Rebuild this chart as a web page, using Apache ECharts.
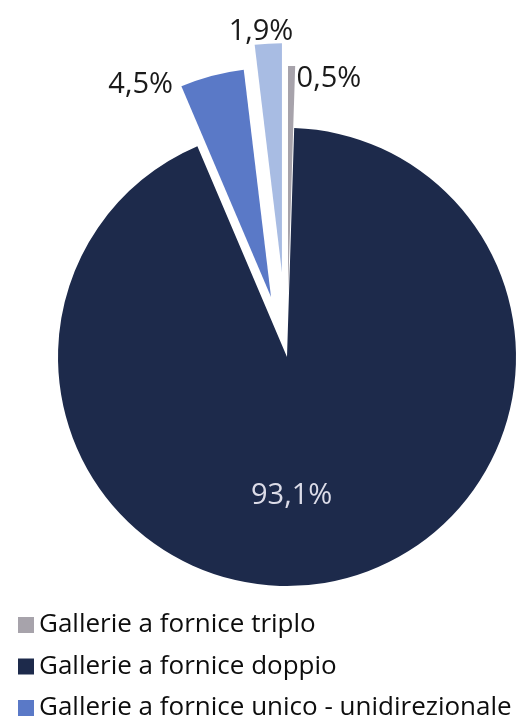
<!DOCTYPE html>
<html>
<head>
<meta charset="utf-8">
<script src="https://cdn.jsdelivr.net/npm/echarts@6/dist/echarts.min.js"></script>
<style>
  html, body { margin: 0; padding: 0; background: #ffffff; }
  #chart { width: 527px; height: 720px; }
</style>
</head>
<body>
<div id="chart"></div>
<script>
// dati (percentuali)
const categories = [
  "Gallerie a fornice triplo",
  "Gallerie a fornice doppio",
  "Gallerie a fornice unico - unidirezionale",
  "Gallerie a fornice unico - bidirezionale",
];
const values = [0.5, 93.1, 4.5, 1.9];
const legendNames = categories.slice(0, 3); // la quarta voce è tagliata nell'originale

const colors = ["#a7a3ab", "#1d2a4b", "#5a79c7", "#a8bce3"];
// spostamento delle etichette rispetto alla posizione di default
const labelShift = [
  { dx: 0, dy: 13 },
  { dx: -17, dy: 23 },
  { dx: -34, dy: 9 },
  { dx: 30, dy: -12 },
];

const fmt = (v) => v.toFixed(1).replace(".", ",") + "%";

const chart = echarts.init(document.getElementById("chart"));

// serie principale: fetta chiara nascosta (ha uno spostamento diverso)
const mainData = categories.map((name, i) => ({
  name,
  value: values[i],
  selected: i === 0 || i === 2,
  itemStyle: { color: i === 3 ? "transparent" : colors[i] },
  label: {
    show: i !== 3,
    position: i === 1 ? "inside" : "outside",
    color: i === 1 ? "#dcdce8" : "#1a1a1a",
  },
}));

// seconda serie: solo la fetta chiara, esplosa di più
const lightData = categories.map((name, i) => ({
  name,
  value: values[i],
  selected: i === 3,
  itemStyle: { color: i === 3 ? colors[i] : "transparent" },
  label: { show: i === 3, position: "outside", color: "#1a1a1a" },
}));

const baseSeries = {
  type: "pie",
  center: [287, 357],
  radius: 229,
  startAngle: 90,
  clockwise: true,
  selectedMode: "multiple",
  avoidLabelOverlap: false,
  animation: false,
  emphasis: { disabled: true },
  label: {
    fontFamily: "Open Sans",
    fontSize: 29,
    formatter: (p) => fmt(p.value),
    distanceToLabelLine: 5,
  },
  labelLine: { show: false, length: 0, length2: 0 },
  labelLayout: (p) => labelShift[p.dataIndex],
};

const option = {
  backgroundColor: "#ffffff",
  legend: {
    data: legendNames,
    orient: "vertical",
    left: 13,
    top: 607,
    height: 200,
    icon: "rect",
    itemWidth: 16,
    itemHeight: 16,
    itemGap: 15.5,
    selectedMode: false,
    textStyle: {
      fontFamily: "Open Sans",
      fontSize: 26,
      lineHeight: 26,
      color: "#0d0d0d",
    },
  },
  series: [
    Object.assign({}, baseSeries, { name: "main", selectedOffset: 62, data: mainData }),
    Object.assign({}, baseSeries, { name: "light", selectedOffset: 85, silent: true, data: lightData }),
  ],
};

chart.setOption(option);
</script>
</body>
</html>
